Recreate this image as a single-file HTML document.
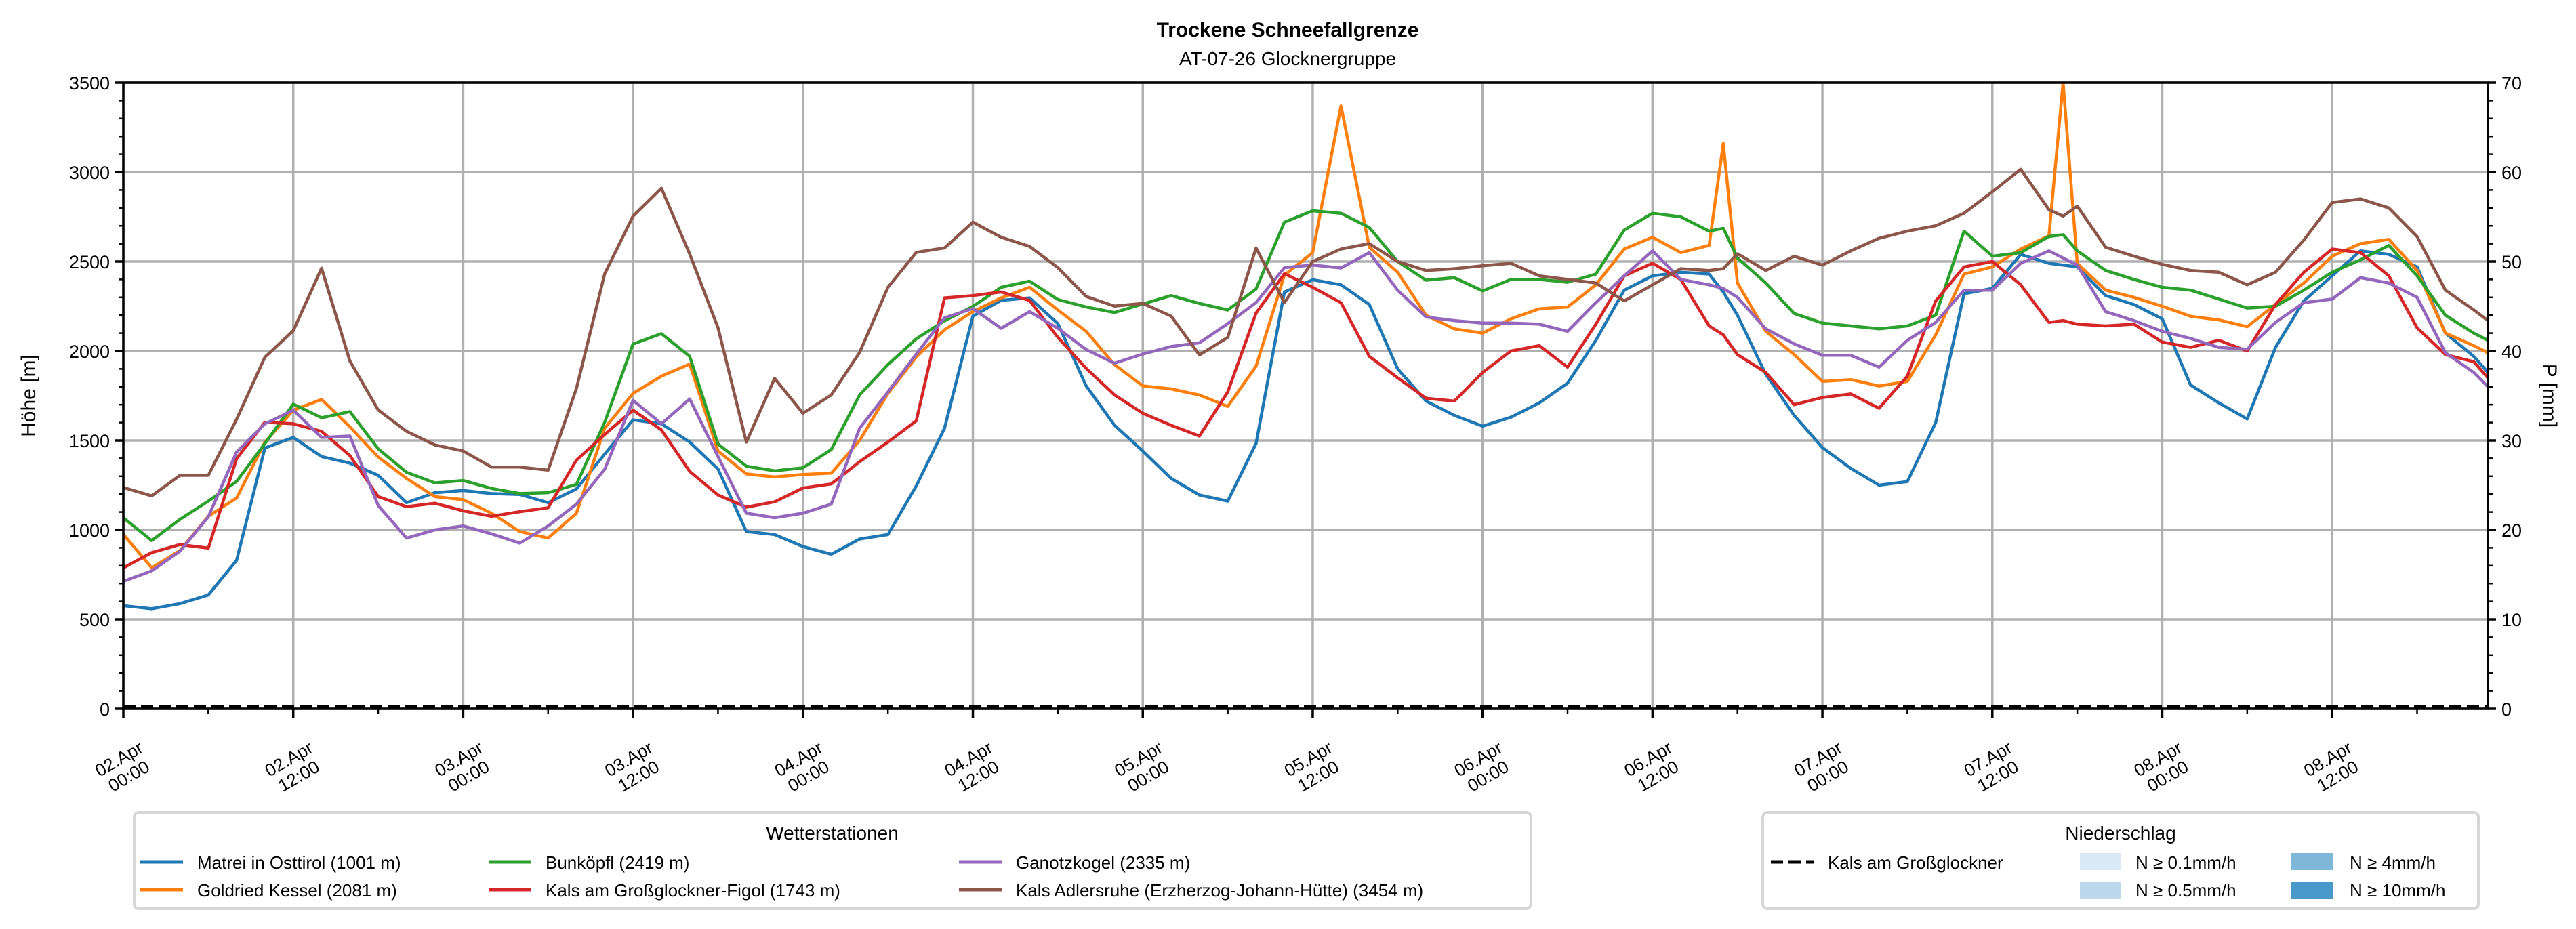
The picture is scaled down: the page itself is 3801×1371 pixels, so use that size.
<!DOCTYPE html>
<html><head><meta charset="utf-8">
<style>
html,body{margin:0;padding:0;background:#fff;}
svg{display:block;font-family:"Liberation Sans","DejaVu Sans",sans-serif;}
</style></head>
<body>
<svg id="chart" width="3801" height="1371" viewBox="0 0 3801 1371" xmlns="http://www.w3.org/2000/svg">
<defs><clipPath id="plotclip"><rect x="182" y="122" width="3489" height="924"/></clipPath></defs>
<text x="1900" y="54" text-anchor="middle" font-size="30" font-weight="bold">Trockene Schneefallgrenze</text>
<text x="1900" y="96" text-anchor="middle" font-size="28">AT-07-26 Glocknergruppe</text>
<g id="grid"></g>
<g id="series" clip-path="url(#plotclip)"></g>
<g id="axes"></g>
<text x="0" y="0" transform="translate(52,584) rotate(-90)" text-anchor="middle" font-size="30">Höhe [m]</text>
<text x="0" y="0" transform="translate(3752,584) rotate(90)" text-anchor="middle" font-size="30">P [mm]</text>

<g>
<rect x="198" y="1199" width="2061" height="142" rx="7" fill="#fff" stroke="#d6d6d6" stroke-width="4"/>
<text x="1228" y="1239" text-anchor="middle" font-size="28">Wetterstationen</text>
<g><line x1="207" y1="1272" x2="270" y2="1272" stroke="#1f77b4" stroke-width="5"/><text x="291" y="1282" font-size="26">Matrei in Osttirol (1001 m)</text></g>
<g><line x1="207" y1="1313" x2="270" y2="1313" stroke="#ff7f0e" stroke-width="5"/><text x="291" y="1323" font-size="26">Goldried Kessel (2081 m)</text></g>
<g><line x1="721" y1="1272" x2="784" y2="1272" stroke="#2ca02c" stroke-width="5"/><text x="805" y="1282" font-size="26">Bunköpfl (2419 m)</text></g>
<g><line x1="721" y1="1313" x2="784" y2="1313" stroke="#d62728" stroke-width="5"/><text x="805" y="1323" font-size="26">Kals am Großglockner-Figol (1743 m)</text></g>
<g><line x1="1415" y1="1272" x2="1478" y2="1272" stroke="#9467bd" stroke-width="5"/><text x="1499" y="1282" font-size="26">Ganotzkogel (2335 m)</text></g>
<g><line x1="1415" y1="1313" x2="1478" y2="1313" stroke="#8c564b" stroke-width="5"/><text x="1499" y="1323" font-size="26">Kals Adlersruhe (Erzherzog-Johann-Hütte) (3454 m)</text></g>
</g>

<g>
<rect x="2601" y="1199" width="1056" height="142" rx="7" fill="#fff" stroke="#d6d6d6" stroke-width="4"/>
<text x="3129" y="1239" text-anchor="middle" font-size="28">Niederschlag</text>
<g><line x1="2613" y1="1272" x2="2676" y2="1272" stroke="#000" stroke-width="5" stroke-dasharray="18,8"/><text x="2697" y="1282" font-size="26">Kals am Großglockner</text></g>
<g><rect x="3069" y="1259" width="60" height="25" fill="#dbe9f6"/><text x="3151" y="1282" font-size="26">N ≥ 0.1mm/h</text></g>
<g><rect x="3069" y="1301" width="60" height="25" fill="#bdd7ec"/><text x="3151" y="1323" font-size="26">N ≥ 0.5mm/h</text></g>
<g><rect x="3381" y="1259" width="62" height="25" fill="#7fb7da"/><text x="3467" y="1282" font-size="26">N ≥ 4mm/h</text></g>
<g><rect x="3381" y="1301" width="62" height="25" fill="#4a98c9"/><text x="3467" y="1323" font-size="26">N ≥ 10mm/h</text></g>
</g>
</svg>
<script>
const hours = [0,2,4,6,8,10,12,14,16,18,20,22,24,26,28,30,32,34,36,38,40,42,44,46,48,50,52,54,56,58,60,62,64,66,68,70,72,74,76,78,80,82,84,86,88,90,92,94,96,98,100,102,104,106,108,110,112,113,114,116,118,120,122,124,126,128,130,132,134,136,137,138,140,142,144,146,148,150,152,154,156,158,160,162,164,166,167];
const matrei = [576,559,588,636,830,1458,1517,1410,1373,1305,1152,1208,1220,1203,1198,1152,1229,1424,1615,1593,1491,1340,991,974,907,864,949,974,1246,1568,2195,2283,2297,2153,1805,1585,1441,1288,1195,1161,1483,2330,2398,2370,2260,1900,1720,1640,1580,1630,1710,1820,2060,2340,2420,2440,2430,2330,2200,1870,1640,1460,1344,1250,1270,1600,2320,2350,2540,2490,2480,2470,2310,2260,2180,1810,1710,1620,2020,2280,2420,2560,2540,2470,2100,1970,1880];
const goldried = [975,788,885,1076,1178,1491,1669,1729,1576,1407,1288,1186,1169,1093,991,954,1093,1568,1763,1859,1927,1440,1313,1296,1310,1317,1500,1763,1966,2119,2220,2297,2356,2229,2110,1924,1805,1788,1754,1690,1915,2424,2550,3370,2580,2440,2200,2124,2100,2180,2236,2246,2370,2570,2636,2550,2590,3160,2380,2110,1980,1830,1840,1804,1830,2090,2430,2470,2570,2644,3500,2490,2340,2300,2250,2194,2174,2136,2260,2380,2530,2600,2624,2450,2100,2030,1990];
const bunkoepfl = [1068,940,1059,1161,1271,1483,1703,1627,1661,1453,1322,1263,1276,1232,1203,1208,1254,1602,2039,2097,1970,1480,1356,1330,1347,1449,1754,1924,2068,2169,2249,2356,2390,2288,2246,2215,2263,2310,2266,2229,2347,2720,2784,2770,2690,2500,2396,2410,2336,2400,2400,2384,2430,2676,2770,2750,2670,2686,2520,2380,2210,2156,2140,2124,2140,2200,2670,2530,2550,2640,2650,2560,2450,2400,2356,2340,2290,2240,2250,2340,2440,2510,2590,2420,2200,2100,2060];
const figol = [788,873,918,898,1398,1602,1593,1551,1415,1186,1130,1149,1107,1076,1102,1124,1390,1534,1669,1559,1327,1195,1127,1157,1234,1257,1381,1491,1610,2297,2310,2330,2283,2076,1903,1754,1652,1585,1525,1771,2212,2432,2356,2270,1970,1850,1736,1720,1880,2000,2030,1910,2150,2420,2490,2400,2140,2090,1980,1880,1700,1740,1760,1680,1860,2280,2470,2500,2370,2160,2170,2150,2140,2150,2050,2020,2060,2000,2260,2440,2570,2550,2420,2130,1980,1940,1850];
const ganotzkogel = [712,771,881,1073,1435,1593,1669,1517,1525,1136,954,1000,1022,978,926,1022,1144,1339,1724,1593,1732,1410,1093,1068,1093,1144,1568,1771,1983,2186,2237,2127,2220,2127,2008,1932,1983,2025,2046,2153,2271,2466,2480,2464,2550,2340,2190,2170,2156,2156,2150,2110,2270,2420,2560,2400,2370,2350,2300,2124,2040,1976,1976,1910,2060,2160,2340,2340,2490,2560,2520,2480,2220,2170,2110,2070,2020,2010,2160,2270,2290,2410,2380,2300,1990,1880,1800];
const adlersruhe = [1237,1190,1305,1305,1618,1966,2113,2463,1944,1670,1551,1475,1441,1351,1351,1334,1791,2432,2754,2910,2542,2130,1491,1847,1652,1754,1992,2356,2551,2576,2720,2636,2585,2466,2305,2251,2266,2195,1978,2076,2576,2271,2500,2570,2600,2500,2450,2460,2476,2490,2420,2400,2380,2280,2370,2460,2450,2460,2544,2450,2530,2480,2560,2630,2670,2700,2770,2890,3016,2790,2754,2810,2580,2530,2484,2450,2440,2370,2440,2620,2830,2850,2800,2640,2340,2230,2170];
const precipKals = [0,0];
const precipHours = [0,167];
const xTickLabels = ["02.Apr|00:00","02.Apr|12:00","03.Apr|00:00","03.Apr|12:00","04.Apr|00:00","04.Apr|12:00","05.Apr|00:00","05.Apr|12:00","06.Apr|00:00","06.Apr|12:00","07.Apr|00:00","07.Apr|12:00","08.Apr|00:00","08.Apr|12:00"];
const yTicks = [0,500,1000,1500,2000,2500,3000,3500];
const y2Ticks = [0,10,20,30,40,50,60,70];

const NS="http://www.w3.org/2000/svg";
const L=182,R=3671,T=122,B=1046;
const HMAX=167;
const xS=h=>L+(R-L)*h/HMAX;
const yS=v=>B-(B-T)*v/3500;
const y2S=v=>B-(B-T)*v/70;
function mk(tag,attrs,parent){const e=document.createElementNS(NS,tag);for(const k in attrs)e.setAttribute(k,attrs[k]);parent.appendChild(e);return e;}
const grid=document.getElementById('grid'),axes=document.getElementById('axes'),ser=document.getElementById('series');

xTickLabels.forEach((lab,i)=>{
  const x=xS(i*12);
  const g=mk('line',{x1:x,y1:T,x2:x,y2:B,stroke:'#b0b0b0','stroke-width':3.5},grid);
  
  
  const t=mk('line',{x1:x,y1:B,x2:x,y2:B+13,stroke:'#000','stroke-width':3.5},axes);
  
  
  const parts=lab.split('|');
  const tx=mk('text',{transform:`translate(${x-2},${1128}) rotate(-30)`,'text-anchor':'middle','font-size':26},axes);
  
  
  mk('tspan',{x:0,y:0},tx).textContent=parts[0];
  mk('tspan',{x:0,y:29},tx).textContent=parts[1];
});
for(let h=6;h<HMAX;h+=12){
  const m=mk('line',{x1:xS(h),y1:B,x2:xS(h),y2:B+8,stroke:'#000','stroke-width':2.5},axes);
  
  
}
yTicks.forEach(v=>{
  const y=yS(v);
  const g=mk('line',{x1:L,y1:y,x2:R,y2:y,stroke:'#b0b0b0','stroke-width':3.5},grid);
  
  
  const t=mk('line',{x1:L-12,y1:y,x2:L,y2:y,stroke:'#000','stroke-width':3.5},axes);
  
  
  const tx=mk('text',{x:L-20,y:y+10,'text-anchor':'end','font-size':27},axes);
  
  
  tx.textContent=v;
});
for(let v=100;v<3500;v+=100){ if(v%500===0)continue;
  const m=mk('line',{x1:L-7,y1:yS(v),x2:L,y2:yS(v),stroke:'#000','stroke-width':2.5},axes);
  
  
}
y2Ticks.forEach(v=>{
  const y=y2S(v);
  const t=mk('line',{x1:R,y1:y,x2:R+12,y2:y,stroke:'#000','stroke-width':3.5},axes);
  
  
  const tx=mk('text',{x:R+20,y:y+10,'text-anchor':'start','font-size':27},axes);
  
  
  tx.textContent=v;
});
for(let v=2;v<70;v+=2){ if(v%10===0)continue;
  const m=mk('line',{x1:R,y1:y2S(v),x2:R+7,y2:y2S(v),stroke:'#000','stroke-width':2.5},axes);
  
  
}
const seriesList=[[matrei,'#1f77b4','matrei-line'],[goldried,'#ff7f0e','goldried-line'],[bunkoepfl,'#2ca02c','bunkoepfl-line'],[figol,'#d62728','figol-line'],[ganotzkogel,'#9467bd','ganotzkogel-line'],[adlersruhe,'#8c564b','adlersruhe-line']];
seriesList.forEach(s=>{
  const d=s[0].map((v,i)=>(i?'L':'M')+xS(hours[i]).toFixed(1)+','+yS(v).toFixed(1)).join(' ');
  const p=mk('path',{d:d,fill:'none',stroke:s[1],'stroke-width':4.5,'stroke-linejoin':'round'},ser);
  
  
});
const pd=precipKals.map((v,i)=>(i?'L':'M')+xS(precipHours[i]).toFixed(1)+','+(y2S(v)-3).toFixed(1)).join(' ');
const pp=mk('path',{d:pd,fill:'none',stroke:'#000','stroke-width':5,'stroke-dasharray':'18,8'},axes);


const fr=mk('rect',{x:L,y:T,width:R-L,height:B-T,fill:'none',stroke:'#000','stroke-width':3.5},axes);


</script>
</body></html>
